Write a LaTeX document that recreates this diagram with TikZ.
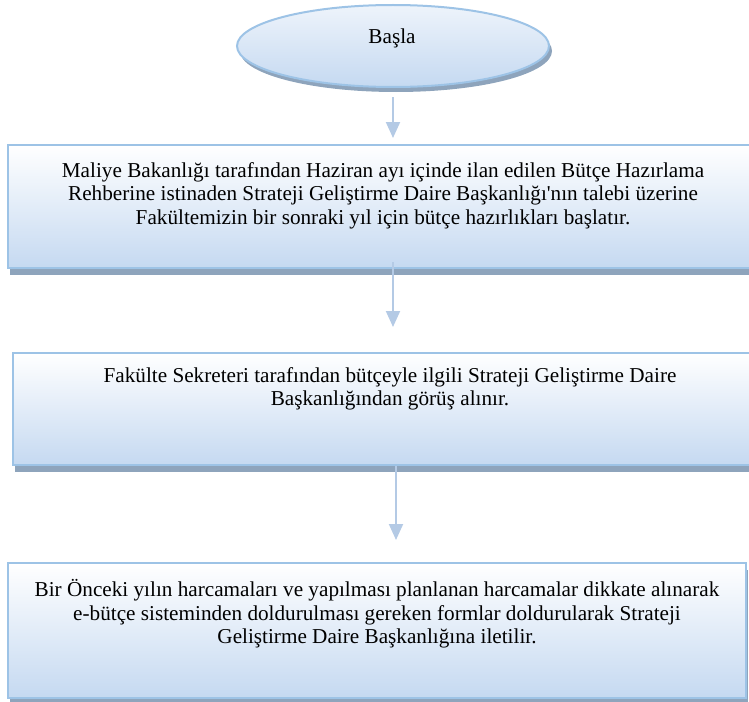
\documentclass[tikz,border=0pt]{standalone}
\usepackage{fontspec}
\setmainfont{Liberation Serif}[Ligatures=TeXOff]
\usetikzlibrary{shapes.geometric,shadows,arrows.meta}
\definecolor{edgeblue}{HTML}{9DC3E6}
\definecolor{fillblue}{HTML}{C5D9F1}
\definecolor{shadowgrey}{HTML}{8EA4BC}
\definecolor{arrowblue}{HTML}{B4CAE5}
\tikzset{
  stepbox/.style={draw=edgeblue, line width=2.5pt, rectangle, inner sep=0pt,
    top color=white, bottom color=fillblue,
    drop shadow={shadow xshift=2pt, shadow yshift=-7pt, fill=shadowgrey, opacity=1}},
  startshape/.style={draw=edgeblue, line width=2pt, ellipse, inner sep=0pt,
    top color=fillblue!30, bottom color=fillblue,
    drop shadow={shadow xshift=3pt, shadow yshift=-5pt, fill=shadowgrey, opacity=1}},
  steptext/.style={align=center, font=\fontsize{21.2}{23.8}\selectfont, anchor=north, inner sep=0pt},
  flow/.style={draw=arrowblue, line width=2pt, -{Triangle[width=14pt,length=16pt]}},
}
\begin{document}
\begin{tikzpicture}[x=1pt,y=-1pt]
\useasboundingbox (0,0) rectangle (749,701);
\clip (0,0) rectangle (749,701);
% start ellipse
\node[startshape, minimum width=312pt, minimum height=82pt] (start) at (393,46) {};
\node[font=\fontsize{21.2}{23.8}\selectfont] (starttext) at (392,38) {Başla};
% process boxes
\node[stepbox, minimum width=756pt, minimum height=123pt] (box1) at (386,206.5) {};
\node[stepbox, minimum width=752pt, minimum height=112pt] (box2) at (389,409) {};
\node[stepbox, minimum width=738pt, minimum height=135pt] (box3) at (377,630.5) {};
% texts
\node[steptext] (t1) at (383,162) {Maliye Bakanlığı tarafından Haziran ayı içinde ilan edilen Bütçe Hazırlama\\Rehberine istinaden Strateji Geliştirme Daire Başkanlığı'nın talebi üzerine\\Fakültemizin bir sonraki yıl için bütçe hazırlıkları başlatır.};
\node[steptext] (t2) at (390,367) {Fakülte Sekreteri tarafından bütçeyle ilgili Strateji Geliştirme Daire\\Başkanlığından görüş alınır.};
\node[steptext] (t3) at (377,579) {Bir Önceki yılın harcamaları ve yapılması planlanan harcamalar dikkate alınarak\\e-bütçe sisteminden doldurulması gereken formlar doldurularak Strateji\\Geliştirme Daire Başkanlığına iletilir.};
% connectors
\coordinate (a1s) at (393,97);
\coordinate (a1e) at (393,138);
\coordinate (a2s) at (393,262);
\coordinate (a2e) at (393,327);
\coordinate (a3s) at (396,466);
\coordinate (a3e) at (396,540);
\draw[flow] (a1s) -- (a1e);
\draw[flow] (a2s) -- (a2e);
\draw[flow] (a3s) -- (a3e);
\end{tikzpicture}
\end{document}
